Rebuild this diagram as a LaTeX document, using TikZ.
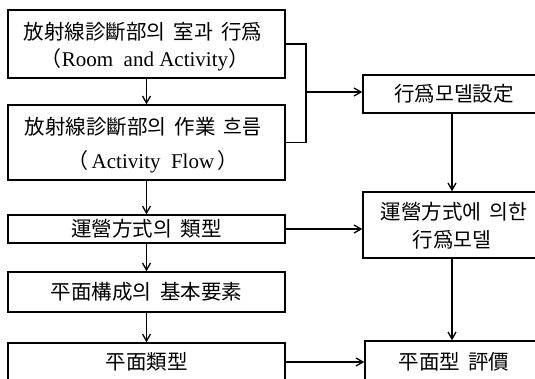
\documentclass[tikz,border=0pt]{standalone}
\usepackage{fontspec}
\setmainfont{Liberation Serif}
\newfontfamily\kr{Noto Sans CJK KR}
\newcommand\gap{\hspace{0.4em}}
\usetikzlibrary{arrows.meta}
\tikzset{
  box/.style={draw, line width=1.4pt, inner sep=0pt, minimum width=#1},
  box/.default=277pt,
  arr/.style={line width=1.3pt, -{Straight Barb[length=7pt,width=8pt,line width=1.3pt]}},
  ln/.style={line width=1.3pt},
  txt/.style={font=\kr\fontsize{20.5}{24}\selectfont},
  lat/.style={font=\fontsize{21}{24}\selectfont}
}
\begin{document}
\begin{tikzpicture}[x=1pt,y=-1pt]
\useasboundingbox (0,0) rectangle (535,378);
\clip (0,0) rectangle (535,378);
\node[box, minimum height=68pt] (b1) at (146.5,44) {};
\node[txt] (t1a) at (143,32) {放射線診斷部의\gap 室과\gap 行爲};
\node[lat] (t1b) at (145,60) {{\kr （}Room\ \ and Activity{\kr ）}};
\node[box, minimum height=75pt] (b2) at (146.5,142.5) {};
\node[txt] (t2a) at (143,127) {放射線診斷部의\gap 作業\gap 흐름};
\node[lat] (t2b) at (153,162) {{\kr （}\hspace{0.15em}Activity\ \ Flow\hspace{0.15em}{\kr ）}};
\node[box, minimum height=28pt, txt] (b3) at (146.5,229) {運營方式의\gap 類型};
\node[box, minimum height=40pt, txt] (b4) at (146.5,292) {平面構成의\gap 基本要素};
\node[box, minimum height=38pt, txt] (b5) at (146.5,362) {平面類型};
\node[box=182pt, minimum height=38pt, txt] (r1) at (454,94) {行爲모델設定};
\node[box=182pt, minimum height=66pt] (r2) at (454,225) {};
\node[txt] (r2a) at (454,212) {運營方式에\gap 의한};
\node[txt] (r2b) at (452,240) {行爲모델};
\node[box=178pt, minimum height=42pt, txt] (r3) at (454,362) {平面型\gap 評價};
\coordinate (j) at (306,92);
\draw[arr] (b1.south) -- (b2.north);
\draw[arr] (b2.south) -- (b3.north);
\draw[arr] (b3.south) -- (b4.north);
\draw[arr] (b4.south) -- (b5.north);
\draw[ln] (b1.east) -| (j) |- (b2.east);
\draw[arr] (j) -- (j -| r1.west);
\draw[arr] (b3.east) -- (b3.east -| r2.west);
\draw[arr] (r1.south -| 452,0) -- (r2.north -| 452,0);
\draw[arr] (r2.south -| 452,0) -- (r3.north -| 452,0);
\draw[arr] (b5.east) -- (b5.east -| r3.west);
\end{tikzpicture}
\end{document}
